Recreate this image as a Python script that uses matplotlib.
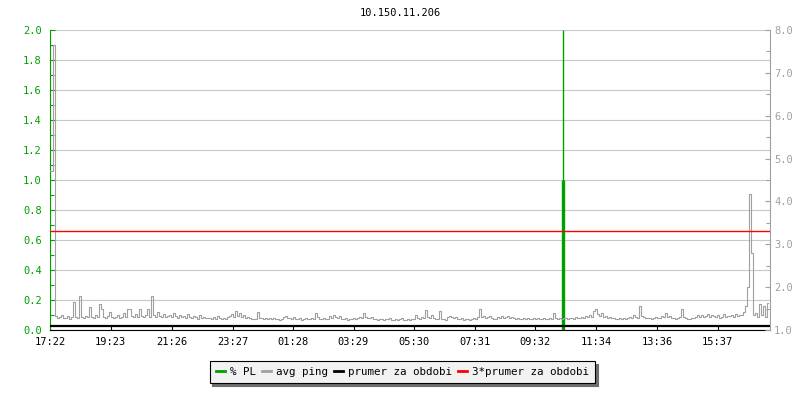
import matplotlib
matplotlib.use("Agg")
import matplotlib.pyplot as plt
import numpy as np
from matplotlib.lines import Line2D

title = "10.150.11.206"
start_label = "17:22"
tick_labels = ["17:22", "19:23", "21:26", "23:27", "01:28", "03:29",
               "05:30", "07:31", "09:32", "11:34", "13:36", "15:37"]
span_minutes = 1440
step_minutes = 4

# avg ping, one value every 4 minutes (right axis)
ping = [
    4.7, 4.7, 7.65, 1.32, 1.28, 1.3, 1.35, 1.27, 1.29, 1.32, 1.26, 1.3, 1.66, 1.3, 1.28, 1.79, 1.3, 1.27, 1.33, 1.3,
    1.54, 1.3, 1.28, 1.35, 1.3, 1.61, 1.5, 1.3, 1.28, 1.33, 1.42, 1.3, 1.27, 1.3, 1.36, 1.29, 1.3, 1.4, 1.3, 1.5,
    1.5, 1.32, 1.3, 1.38, 1.3, 1.5, 1.33, 1.3, 1.36, 1.5, 1.3, 1.79, 1.35, 1.3, 1.42, 1.33, 1.3, 1.38, 1.3, 1.32,
    1.36, 1.3, 1.4, 1.32, 1.28, 1.35, 1.3, 1.33, 1.28, 1.38, 1.3, 1.27, 1.32, 1.3, 1.26, 1.35, 1.28, 1.3, 1.27, 1.29,
    1.28, 1.26, 1.3, 1.25, 1.33, 1.27, 1.25, 1.28, 1.26, 1.3, 1.32, 1.38, 1.3, 1.45, 1.33, 1.4, 1.3, 1.35, 1.28, 1.3,
    1.27, 1.25, 1.26, 1.25, 1.43, 1.28, 1.27, 1.26, 1.28, 1.25, 1.27, 1.26, 1.28, 1.25, 1.26, 1.24, 1.25, 1.3, 1.33, 1.28,
    1.27, 1.26, 1.3, 1.26, 1.25, 1.27, 1.24, 1.26, 1.28, 1.25, 1.26, 1.27, 1.25, 1.4, 1.3, 1.26, 1.25, 1.27, 1.26, 1.25,
    1.33, 1.28, 1.35, 1.3, 1.27, 1.32, 1.26, 1.25, 1.27, 1.24, 1.26, 1.25, 1.28, 1.26, 1.27, 1.3, 1.28, 1.39, 1.3, 1.27,
    1.28, 1.3, 1.26, 1.25, 1.24, 1.26, 1.25, 1.24, 1.26, 1.25, 1.27, 1.24, 1.23, 1.25, 1.24, 1.26, 1.28, 1.24, 1.23, 1.25,
    1.24, 1.26, 1.25, 1.36, 1.27, 1.25, 1.3, 1.27, 1.47, 1.3, 1.27, 1.35, 1.28, 1.26, 1.25, 1.44, 1.26, 1.25, 1.24, 1.3,
    1.32, 1.3, 1.27, 1.3, 1.26, 1.25, 1.27, 1.24, 1.25, 1.26, 1.24, 1.25, 1.27, 1.26, 1.3, 1.49, 1.3, 1.33, 1.28, 1.3,
    1.32, 1.27, 1.25, 1.26, 1.3, 1.27, 1.33, 1.28, 1.3, 1.32, 1.27, 1.3, 1.28, 1.26, 1.27, 1.25, 1.26, 1.28, 1.25, 1.27,
    1.26, 1.25, 1.27, 1.26, 1.28, 1.25, 1.26, 1.27, 1.25, 1.26, 1.28, 1.25, 1.39, 1.27, 1.25, 1.27, 1.26, 1.28, 1.27, 1.26,
    1.27, 1.28, 1.26, 1.3, 1.27, 1.28, 1.3, 1.27, 1.33, 1.3, 1.35, 1.3, 1.45, 1.5, 1.38, 1.33, 1.4, 1.3, 1.32, 1.28,
    1.3, 1.27, 1.28, 1.26, 1.25, 1.27, 1.26, 1.28, 1.25, 1.27, 1.3, 1.28, 1.35, 1.3, 1.27, 1.56, 1.32, 1.3, 1.27, 1.28,
    1.27, 1.26, 1.28, 1.3, 1.27, 1.28, 1.32, 1.3, 1.4, 1.3, 1.33, 1.28, 1.27, 1.26, 1.28, 1.3, 1.49, 1.3, 1.27, 1.26,
    1.26, 1.27, 1.28, 1.3, 1.34, 1.3, 1.36, 1.3, 1.33, 1.38, 1.3, 1.35, 1.32, 1.3, 1.35, 1.29, 1.3, 1.37, 1.3, 1.32,
    1.32, 1.35, 1.3, 1.38, 1.32, 1.36, 1.35, 1.42, 1.55, 2.0, 4.17, 2.8, 1.35, 1.4, 1.3, 1.6, 1.35, 1.55, 1.3, 1.62,
]

# packet loss events (minutes from start, % PL)
pl_minutes = [1024, 1026, 1028]
pl_values = [1.0, 2.0, 1.0]

avg_value = 1.1
avg3_value = 3.3

legend_labels = ["% PL", "avg ping", "prumer za obdobi", "3*prumer za obdobi"]

green = "#00a000"
gray = "#a0a0a0"
grid_gray = "#c8c8c8"
red = "#ff0000"
mono = "DejaVu Sans Mono"


def to_minutes(label):
    h, m = map(int, label.split(":"))
    h0, m0 = map(int, start_label.split(":"))
    return (h * 60 + m - (h0 * 60 + m0)) % 1440


plt.rcParams["font.family"] = mono

fig = plt.figure(figsize=(8, 4), dpi=100)
ax = fig.add_axes([50 / 800, 70 / 400, 720 / 800, 300 / 400])
ax2 = ax.twinx()

# left axis: % PL
ax.vlines(pl_minutes, 0, pl_values, color=green, lw=1.0)
ax.set_xlim(0, span_minutes)
ax.set_ylim(0, 2.0)
ax.set_yticks(np.arange(0, 2.01, 0.2))
ax.set_yticks(np.arange(0.1, 2.0, 0.2), minor=True)
ax.set_yticklabels([f"{v:.1f}" for v in np.arange(0, 2.01, 0.2)])
ax.set_xticks([to_minutes(t) for t in tick_labels])
ax.set_xticklabels(tick_labels)
ax.grid(axis="y", color=grid_gray, lw=0.8)
ax.set_axisbelow(True)
ax.tick_params(axis="y", which="both", direction="in", colors=green, labelsize=7.5, pad=6)
ax.tick_params(axis="y", which="major", length=3.6, width=0.8)
ax.tick_params(axis="y", which="minor", length=2.9, width=0.8)
ax.tick_params(axis="x", direction="in", length=3.6, width=0.8, colors="black", labelsize=7.5, pad=5)
ax.spines["left"].set_color(green)
ax.spines["bottom"].set_color("black")
ax.spines["top"].set_visible(False)
ax.spines["right"].set_visible(False)
for s in ax.spines.values():
    s.set_linewidth(0.8)

# right axis: avg ping
ping_min = np.arange(len(ping)) * step_minutes
ax2.plot(ping_min, ping, color=gray, lw=0.8, drawstyle="steps-mid")
ax2.axhline(avg_value, color="black", lw=1.6)
ax2.axhline(avg3_value, color=red, lw=1.0)
ax2.set_ylim(1.0, 8.0)
ax2.set_yticks(np.arange(1, 8.01, 1.0))
ax2.set_yticks(np.arange(1.5, 8.0, 1.0), minor=True)
ax2.set_yticklabels([f"{v:.1f}" for v in np.arange(1, 8.01, 1.0)])
ax2.tick_params(axis="y", which="both", direction="in", colors=gray, labelsize=7.5, pad=3, width=0.8)
ax2.tick_params(axis="y", which="major", length=3.6)
ax2.tick_params(axis="y", which="minor", length=2.9)
ax2.spines["right"].set_color(gray)
ax2.spines["right"].set_linewidth(0.8)
ax2.spines["top"].set_visible(False)
ax2.spines["left"].set_visible(False)
ax2.spines["bottom"].set_visible(False)

fig.text(0.5, 1 - 13 / 400, title, ha="center", va="center", fontsize=7.5, color="black")

handles = [Line2D([], [], color=c, lw=2) for c in [green, gray, "black", red]]
leg = fig.legend(handles, legend_labels, loc="center", bbox_to_anchor=(0.503, 1 - 372 / 400),
                 ncol=4, fontsize=7.8, handlelength=0.9, handletextpad=0.45, columnspacing=0.5,
                 frameon=True, fancybox=False, edgecolor="black", facecolor="#f2f2f2",
                 framealpha=1, borderpad=0.55, borderaxespad=0,
                 shadow={"facecolor": "#6e6e6e", "edgecolor": "#6e6e6e", "alpha": 1})
leg.get_frame().set_linewidth(0.8)

fig.savefig("out.png", dpi=100)
